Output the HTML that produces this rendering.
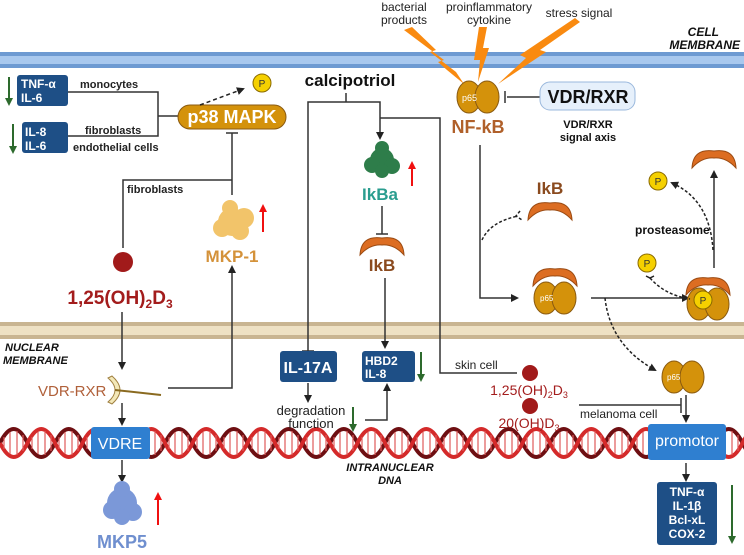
<!DOCTYPE html>
<html><head><meta charset="utf-8"><style>
html,body{margin:0;padding:0;background:#fff;}
svg{display:block;font-family:"Liberation Sans",Arial,sans-serif;}
</style></head><body>
<svg width="744" height="555" viewBox="0 0 744 555" xmlns="http://www.w3.org/2000/svg">
<defs>
<marker id="ah" markerWidth="8" markerHeight="8" refX="6" refY="4" orient="auto" markerUnits="userSpaceOnUse"><path d="M0,0 L8,4 L0,8 Z" fill="#222"/></marker>
<marker id="gah" markerWidth="8" markerHeight="8" refX="6" refY="4" orient="auto" markerUnits="userSpaceOnUse"><path d="M0,0 L8,4 L0,8 Z" fill="#2d6a2d"/></marker>
<marker id="rah" markerWidth="8" markerHeight="8" refX="6" refY="4" orient="auto" markerUnits="userSpaceOnUse"><path d="M0,0 L8,4 L0,8 Z" fill="#f01010"/></marker>
<g id="ikb"><path d="M-22,9 Q-21,-11 0,-8 Q21,-11 22,9 Q12,-2 0,-1 Q-12,-2 -22,9Z" fill="#dc6d22" stroke="#9a4a12" stroke-width="1"/></g>
<g id="dimer"><ellipse cx="-9" cy="0" rx="12" ry="16" fill="#d4920b" stroke="#8a5a10"/><ellipse cx="9" cy="0" rx="12" ry="16" fill="#d4920b" stroke="#8a5a10"/></g>
<g id="pc"><circle r="9" fill="#f5d000" stroke="#8a6a00"/><text y="4" font-size="10" text-anchor="middle" fill="#333">P</text></g>
</defs>

<rect x="0" y="52" width="744" height="16" fill="#6d9ad2"/>
<rect x="0" y="56" width="744" height="8" fill="#a8c8ee"/>
<rect x="0" y="322" width="744" height="17" fill="#c9b592"/>
<rect x="0" y="326" width="744" height="9" fill="#eee1c4"/>

<path d="M0,443 Q13.75,415 27.5,443 T55,443 T82.5,443 T110,443 T137.5,443 T165,443 T192.5,443 T220,443 T247.5,443 T275,443 T302.5,443 T330,443 T357.5,443 T385,443 T412.5,443 T440,443 T467.5,443 T495,443 T522.5,443 T550,443 T577.5,443 T605,443 T632.5,443 T660,443 T687.5,443 T715,443 T742.5,443 T770,443" fill="none" stroke="#6e0f12" stroke-width="4"/>
<path d="M0,443 Q13.75,471 27.5,443 T55,443 T82.5,443 T110,443 T137.5,443 T165,443 T192.5,443 T220,443 T247.5,443 T275,443 T302.5,443 T330,443 T357.5,443 T385,443 T412.5,443 T440,443 T467.5,443 T495,443 T522.5,443 T550,443 T577.5,443 T605,443 T632.5,443 T660,443 T687.5,443 T715,443 T742.5,443 T770,443" fill="none" stroke="#d42a2a" stroke-width="4"/>
<g stroke="#e05a5a" stroke-width="1.2">
<path d="M4,437V449M10,432V454M17,431V455M23,435V451M32,437V449M38,432V454M45,431V455M51,435V451M59,437V449M65,432V454M72,431V455M78,435V451M87,437V449M93,432V454M100,431V455M106,435V451M114,437V449M120,432V454M127,431V455M133,435V451M142,437V449M148,432V454M155,431V455M161,435V451M169,437V449M175,432V454M182,431V455M188,435V451M197,437V449M203,432V454M210,431V455M216,435V451M224,437V449M230,432V454M237,431V455M243,435V451M252,437V449M258,432V454M265,431V455M271,435V451M279,437V449M285,432V454M292,431V455M298,435V451M307,437V449M313,432V454M320,431V455M326,435V451M334,437V449M340,432V454M347,431V455M353,435V451M362,437V449M368,432V454M375,431V455M381,435V451M389,437V449M395,432V454M402,431V455M408,435V451M417,437V449M423,432V454M430,431V455M436,435V451M444,437V449M450,432V454M457,431V455M463,435V451M472,437V449M478,432V454M485,431V455M491,435V451M499,437V449M505,432V454M512,431V455M518,435V451M527,437V449M533,432V454M540,431V455M546,435V451M554,437V449M560,432V454M567,431V455M573,435V451M582,437V449M588,432V454M595,431V455M601,435V451M609,437V449M615,432V454M622,431V455M628,435V451M637,437V449M643,432V454M650,431V455M656,435V451M664,437V449M670,432V454M677,431V455M683,435V451M692,437V449M698,432V454M705,431V455M711,435V451M719,437V449M725,432V454M732,431V455M738,435V451"/>
</g>

<g font-size="12" fill="#222" text-anchor="middle">
<text x="404" y="11">bacterial</text><text x="404" y="24">products</text>
<text x="489" y="11">proinflammatory</text><text x="489" y="24">cytokine</text>
<text x="579" y="17">stress signal</text>
</g>
<g font-size="12" font-weight="bold" font-style="italic" fill="#111" text-anchor="end">
<text x="719" y="36">CELL</text><text x="740" y="49">MEMBRANE</text>
</g>
<!-- lightning bolts -->
<g fill="#f98a10">
<polygon points="404,30 412,27 436,50 430,52 456,72 464,84 447,70 438,62 444,60"/>
<polygon points="479,27 487,27 483,48 489,48 478,82 480,60 474,60"/>
<polygon points="575,18 580,22 540,50 546,52 498,84 526,58 520,55"/>
</g>

<rect x="17" y="75" width="51" height="31" rx="3" fill="#1e4f86"/>
<text x="21" y="88" font-size="12" font-weight="bold" fill="#fff">TNF-α</text>
<text x="21" y="102" font-size="12" font-weight="bold" fill="#fff">IL-6</text>
<rect x="22" y="122" width="46" height="31" rx="3" fill="#1e4f86"/>
<text x="25" y="136" font-size="12" font-weight="bold" fill="#fff">IL-8</text>
<text x="25" y="150" font-size="12" font-weight="bold" fill="#fff">IL-6</text>
<line x1="9" y1="77" x2="9" y2="104" stroke="#2d6a2d" stroke-width="2" marker-end="url(#gah)"/>
<line x1="13" y1="124" x2="13" y2="152" stroke="#2d6a2d" stroke-width="2" marker-end="url(#gah)"/>
<g font-size="11" font-weight="bold" fill="#222">
<text x="80" y="88">monocytes</text>
<text x="85" y="134">fibroblasts</text>
<text x="73" y="151">endothelial cells</text>
<text x="127" y="193">fibroblasts</text>
</g>
<path d="M68,92 H158 V136 H68 M158,116 H178" fill="none" stroke="#333" stroke-width="1.5"/>
<rect x="178" y="105" width="108" height="24" rx="12" fill="#d4920b" stroke="#8a5a10"/>
<text x="232" y="123" font-size="18" font-weight="bold" fill="#fff" text-anchor="middle">p38 MAPK</text>
<use href="#pc" x="262" y="83"/>
<line x1="200" y1="105" x2="243" y2="89" stroke="#222" stroke-width="1.5" stroke-dasharray="4,3" marker-end="url(#ah)"/>
<path d="M232,195 V133 M226,133 H238 M232,180 H123 V248" fill="none" stroke="#333" stroke-width="1.5"/>

<g fill="#f2c46a"><circle cx="232" cy="222" r="14"/><circle cx="244" cy="218" r="10"/><circle cx="222" cy="228" r="9"/><circle cx="240" cy="231" r="9"/><circle cx="230" cy="208" r="8"/></g>
<line x1="263" y1="232" x2="263" y2="206" stroke="#f01010" stroke-width="2" marker-end="url(#rah)"/>
<text x="232" y="262" font-size="17" font-weight="bold" fill="#d4923a" text-anchor="middle">MKP-1</text>

<circle cx="123" cy="262" r="10" fill="#a11a1a"/>
<text x="120" y="304" font-size="19" font-weight="bold" fill="#a31c1c" text-anchor="middle">1,25(OH)<tspan font-size="12" dy="4">2</tspan><tspan dy="-4">D</tspan><tspan font-size="12" dy="4">3</tspan></text>
<line x1="122" y1="312" x2="122" y2="368" stroke="#333" stroke-width="1.5" marker-end="url(#ah)"/>
<g font-size="11" font-weight="bold" font-style="italic" fill="#111"><text x="5" y="351">NUCLEAR</text><text x="3" y="364">MEMBRANE</text></g>
<text x="38" y="396" font-size="15" fill="#b0603a">VDR-RXR</text>
<path d="M108,378 Q122,390 108,402 L112,404 Q128,390 112,376 Z" fill="#f3e8b8" stroke="#a08040"/>
<line x1="115" y1="390" x2="161" y2="395" stroke="#8a6a20" stroke-width="2"/>
<path d="M168,388 H232 V267" fill="none" stroke="#333" stroke-width="1.5" marker-end="url(#ah)"/>
<line x1="122" y1="403" x2="122" y2="424" stroke="#333" stroke-width="1.5" marker-end="url(#ah)"/>
<rect x="91" y="427" width="59" height="32" rx="3" fill="#2f7fd0"/>
<text x="120" y="449" font-size="16" fill="#fff" text-anchor="middle">VDRE</text>
<line x1="122" y1="460" x2="122" y2="481" stroke="#333" stroke-width="1.5" marker-end="url(#ah)"/>
<g fill="#7b98d8"><circle cx="122" cy="503" r="15"/><circle cx="112" cy="510" r="9"/><circle cx="133" cy="512" r="9"/><circle cx="122" cy="489" r="8"/><circle cx="122" cy="517" r="8"/></g>
<line x1="158" y1="525" x2="158" y2="494" stroke="#f01010" stroke-width="2" marker-end="url(#rah)"/>
<text x="122" y="548" font-size="18" font-weight="bold" fill="#6f8fcf" text-anchor="middle">MKP5</text>

<text x="350" y="86" font-size="17" font-weight="bold" fill="#111" text-anchor="middle">calcipotriol</text>
<path d="M346,93 V102 M308,352 V102 H380 V138 M380,118 H440 V373 H517" fill="none" stroke="#333" stroke-width="1.5"/>
<path d="M380,128 V138" stroke="#333" marker-end="url(#ah)"/>
<line x1="302" y1="351" x2="314" y2="351" stroke="#333" stroke-width="1.5"/>
<g fill="#2e7d4a"><circle cx="382" cy="160" r="12"/><circle cx="372" cy="165" r="8"/><circle cx="392" cy="166" r="8"/><circle cx="382" cy="148" r="7"/><circle cx="382" cy="171" r="7"/></g>
<line x1="412" y1="186" x2="412" y2="163" stroke="#f01010" stroke-width="2" marker-end="url(#rah)"/>
<text x="380" y="200" font-size="17" font-weight="bold" fill="#2a9d8f" text-anchor="middle">IkBa</text>
<path d="M382,206 V234 M376,234 H388" stroke="#333" stroke-width="1.5"/>
<use href="#ikb" x="382" y="246"/>
<text x="382" y="271" font-size="17" font-weight="bold" fill="#8a4a1e" text-anchor="middle">IkB</text>
<line x1="385" y1="278" x2="385" y2="347" stroke="#333" stroke-width="1.5" marker-end="url(#ah)"/>

<rect x="280" y="351" width="57" height="31" rx="3" fill="#1e4f86"/>
<text x="308" y="373" font-size="16" font-weight="bold" fill="#fff" text-anchor="middle">IL-17A</text>
<rect x="362" y="351" width="53" height="31" rx="3" fill="#1e4f86"/>
<text x="365" y="365" font-size="12" font-weight="bold" fill="#fff">HBD2</text>
<text x="365" y="378" font-size="12" font-weight="bold" fill="#fff">IL-8</text>
<line x1="421" y1="352" x2="421" y2="380" stroke="#2d6a2d" stroke-width="2" marker-end="url(#gah)"/>
<line x1="308" y1="383" x2="308" y2="401" stroke="#333" stroke-width="1.5" marker-end="url(#ah)"/>
<text x="311" y="415" font-size="13" fill="#222" text-anchor="middle">degradation</text>
<text x="311" y="428" font-size="13" fill="#222" text-anchor="middle">function</text>
<line x1="353" y1="407" x2="353" y2="430" stroke="#2d6a2d" stroke-width="2" marker-end="url(#gah)"/>
<path d="M365,420 H387 V385" fill="none" stroke="#333" stroke-width="1.5" marker-end="url(#ah)"/>
<g font-size="11" font-weight="bold" font-style="italic" fill="#111" text-anchor="middle"><text x="390" y="471">INTRANUCLEAR</text><text x="390" y="484">DNA</text></g>

<text x="455" y="369" font-size="12" fill="#222">skin cell</text>
<circle cx="530" cy="373" r="8" fill="#a11a1a"/>
<text x="529" y="395" font-size="14" fill="#a31c1c" text-anchor="middle">1,25(OH)<tspan font-size="9" dy="3">2</tspan><tspan dy="-3">D</tspan><tspan font-size="9" dy="3">3</tspan></text>
<circle cx="530" cy="406" r="8" fill="#a11a1a"/>
<text x="529" y="428" font-size="14" fill="#a31c1c" text-anchor="middle">20(OH)D<tspan font-size="9" dy="3">3</tspan></text>
<path d="M579,405 H681 M681,398 V413" stroke="#333" stroke-width="1.5"/>
<text x="580" y="418" font-size="12" fill="#222">melanoma cell</text>

<use href="#dimer" x="478" y="97"/>
<text x="462" y="101" font-size="9" fill="#fff">p65</text>
<text x="478" y="133" font-size="18" font-weight="bold" fill="#b0602a" text-anchor="middle">NF-kB</text>
<path d="M540,97 H507 M505,91 V103" stroke="#333" stroke-width="1.5"/>
<rect x="540" y="82" width="95" height="28" rx="10" fill="#e6f0fb" stroke="#9bb9dd"/>
<text x="588" y="103" font-size="18" font-weight="bold" fill="#111" text-anchor="middle">VDR/RXR</text>
<text x="588" y="128" font-size="11" font-weight="bold" fill="#111" text-anchor="middle">VDR/RXR</text>
<text x="588" y="141" font-size="11" font-weight="bold" fill="#111" text-anchor="middle">signal axis</text>

<path d="M480,145 V298 H517" fill="none" stroke="#333" stroke-width="1.5" marker-end="url(#ah)"/>
<text x="550" y="194" font-size="17" font-weight="bold" fill="#8a4a1e" text-anchor="middle">IkB</text>
<use href="#ikb" x="550" y="211"/>
<path d="M482,240 Q490,222 518,216 M520,211 L516,216 L522,220" fill="none" stroke="#222" stroke-width="1.5" stroke-dasharray="3,2"/>
<use href="#ikb" x="555" y="277"/>
<use href="#dimer" x="555" y="298"/>
<text x="540" y="301" font-size="8" fill="#fff">p65</text>
<line x1="591" y1="298" x2="688" y2="298" stroke="#333" stroke-width="1.5" marker-end="url(#ah)"/>
<use href="#ikb" x="708" y="286"/>
<use href="#dimer" x="708" y="304"/>
<use href="#pc" x="703" y="300"/>
<line x1="714" y1="268" x2="714" y2="172" stroke="#333" stroke-width="1.5" marker-end="url(#ah)"/>
<use href="#ikb" x="714" y="159"/>
<use href="#pc" x="658" y="181"/>
<path d="M713,250 Q710,200 672,183" fill="none" stroke="#222" stroke-width="1.5" stroke-dasharray="3,2" marker-end="url(#ah)"/>
<text x="635" y="234" font-size="12" font-weight="bold" fill="#111">prosteasome</text>
<use href="#pc" x="647" y="263"/>
<path d="M650,278 Q665,295 690,299" fill="none" stroke="#222" stroke-width="1.5" stroke-dasharray="3,2"/>
<path d="M646,276 L650,278 L654,276" fill="none" stroke="#222" stroke-width="1.5"/>
<path d="M605,298 Q610,345 655,370" fill="none" stroke="#222" stroke-width="1.5" stroke-dasharray="3,2" marker-end="url(#ah)"/>
<use href="#dimer" x="683" y="377"/>
<text x="667" y="380" font-size="8" fill="#fff">p65</text>
<line x1="686" y1="395" x2="686" y2="421" stroke="#333" stroke-width="1.5" marker-end="url(#ah)"/>
<rect x="648" y="424" width="78" height="36" rx="3" fill="#2f7fd0"/>
<text x="687" y="446" font-size="16" fill="#fff" text-anchor="middle">promotor</text>
<line x1="686" y1="463" x2="686" y2="480" stroke="#333" stroke-width="1.5" marker-end="url(#ah)"/>
<rect x="657" y="482" width="60" height="63" rx="3" fill="#1e4f86"/>
<g font-size="12" font-weight="bold" fill="#fff" text-anchor="middle"><text x="687" y="496">TNF-α</text><text x="687" y="510">IL-1β</text><text x="687" y="524">Bcl-xL</text><text x="687" y="538">COX-2</text></g>
<line x1="732" y1="485" x2="732" y2="542" stroke="#2d6a2d" stroke-width="2" marker-end="url(#gah)"/>
</svg>
</body></html>
